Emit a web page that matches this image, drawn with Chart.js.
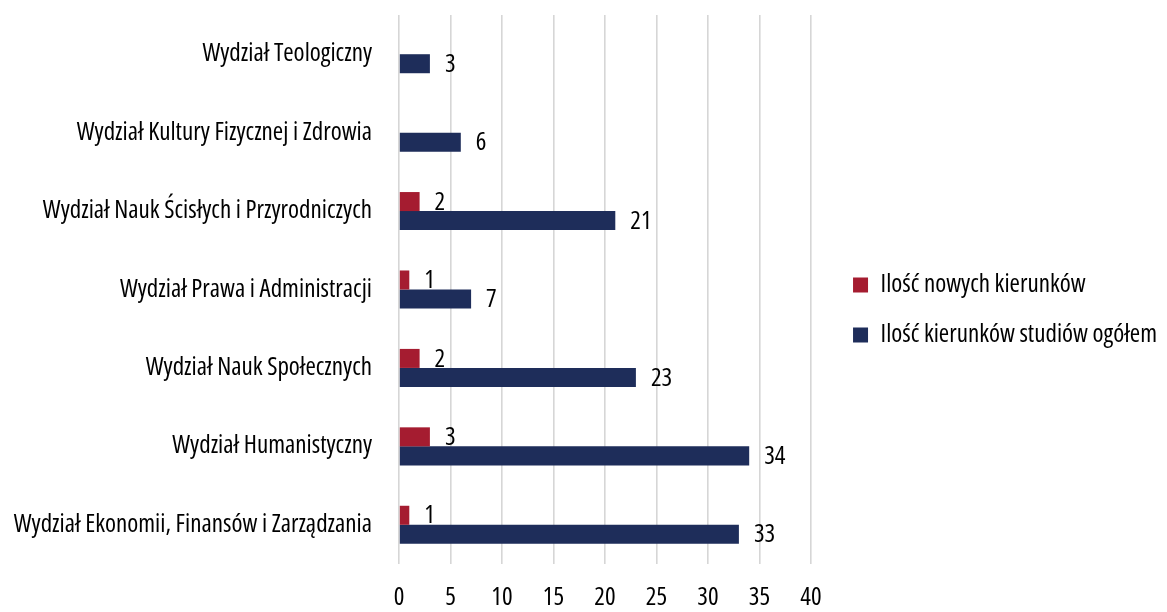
<!DOCTYPE html>
<html>
<head>
<meta charset="utf-8">
<style>
  html, body { margin: 0; padding: 0; background: #ffffff; }
  #wrap { width: 1167px; height: 612px; }
</style>
<script src="https://cdn.jsdelivr.net/npm/chart.js@4.4.1/dist/chart.umd.min.js"></script>
</head>
<body>
<div id="wrap"><canvas id="c" width="1167" height="612"></canvas></div>
<script>
const categories = [
  'Wydział Teologiczny',
  'Wydział Kultury Fizycznej i Zdrowia',
  'Wydział Nauk Ścisłych i Przyrodniczych',
  'Wydział Prawa i Administracji',
  'Wydział Nauk Społecznych',
  'Wydział Humanistyczny',
  'Wydział Ekonomii, Finansów i Zarządzania'
];
const seriesNames = ['Ilość nowych kierunków', 'Ilość kierunków studiów ogółem'];
const newPrograms = [null, null, 2, 1, 2, 3, 1];
const totalPrograms = [3, 6, 21, 7, 23, 34, 33];
const xTicks = [0, 5, 10, 15, 20, 25, 30, 35, 40];

const FONT = "'Open Sans', 'Roboto Condensed', sans-serif";
const FS = 25;
const FW = '500 condensed';
Chart.defaults.font.family = FONT;
Chart.defaults.font.size = FS;
Chart.defaults.font.weight = FW;
Chart.defaults.color = '#000000';

const PLOT_RIGHT = 811;

const valueLabels = {
  id: 'valueLabels',
  afterDatasetsDraw(chart) {
    const ctx = chart.ctx;
    ctx.save();
    ctx.font = FW + ' ' + FS + 'px ' + FONT;
    ctx.fillStyle = '#000000';
    ctx.textAlign = 'left';
    ctx.textBaseline = 'middle';
    chart.data.datasets.forEach((ds, di) => {
      const meta = chart.getDatasetMeta(di);
      meta.data.forEach((el, i) => {
        const v = ds.data[i];
        if (v === null || v === undefined) return;
        ctx.fillText(String(v), el.x + 15, el.y + 1);
      });
    });
    ctx.restore();
  }
};

new Chart(document.getElementById('c'), {
  type: 'bar',
  data: {
    labels: categories,
    datasets: [
      { label: seriesNames[0], data: newPrograms, backgroundColor: '#A51C30', borderWidth: 0 },
      { label: seriesNames[1], data: totalPrograms, backgroundColor: '#1E2D5A', borderWidth: 0 }
    ]
  },
  options: {
    indexAxis: 'y',
    responsive: false,
    animation: false,
    datasets: { bar: { categoryPercentage: 0.485, barPercentage: 1.0 } },
    layout: { padding: { top: 15, left: 0, right: 0, bottom: 7 } },
    scales: {
      x: {
        min: 0, max: 40,
        afterBuildTicks(s) { s.ticks = xTicks.map(v => ({ value: v })); },
        grid: { color: '#d6d6d6', lineWidth: 1.6, drawTicks: false },
        border: { display: false },
        ticks: { padding: 19, color: '#000' },
        afterFit(s) { s.height = 41; s.paddingLeft = 0; s.paddingRight = 0; }
      },
      y: {
        grid: { display: false, drawTicks: false },
        border: { display: false },
        ticks: { padding: 27, color: '#000', autoSkip: false },
        afterFit(s) { s.width = 399; s.paddingTop = 0; s.paddingBottom = 0; }
      },
      yR: {
        type: 'linear',
        position: 'right',
        display: true,
        grid: { display: false, drawTicks: false },
        border: { display: false },
        ticks: { display: false },
        afterFit(s) {
          const lw = (s.chart.legend && s.chart.legend.width) || 330;
          s.width = Math.max(0, s.chart.width - lw - PLOT_RIGHT);
          s.paddingTop = 0; s.paddingBottom = 0;
        }
      }
    },
    plugins: {
      legend: {
        position: 'right',
        align: 'center',
        maxWidth: 420,
        labels: {
          boxWidth: 15, boxHeight: 15, padding: 25,
          color: '#000'
        }
      },
      tooltip: { enabled: false }
    }
  },
  plugins: [valueLabels]
});
</script>
</body>
</html>
